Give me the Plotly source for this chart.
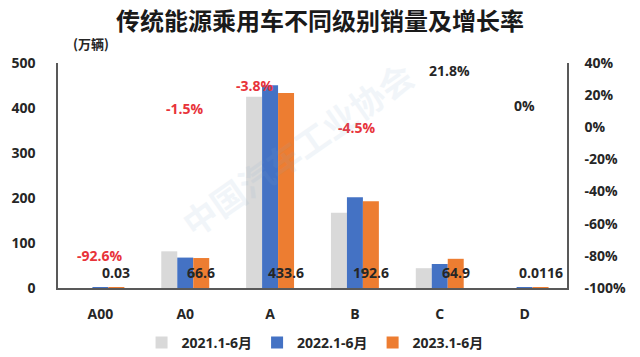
import plotly.graph_objects as go

categories = ["A00", "A0", "A", "B", "C", "D"]
sales_2021 = [None, 81.5, 425.0, 167.0, 44.0, None]
sales_2022 = [0.4, 67.6, 450.7, 201.7, 53.3, 0.0116]
sales_2023 = [0.03, 66.6, 433.6, 192.6, 64.9, 0.0116]
value_labels = ["0.03", "66.6", "433.6", "192.6", "64.9", "0.0116"]
growth = [-92.6, -1.5, -3.8, -4.5, 21.8, 0.0]
growth_labels = ["-92.6%", "-1.5%", "-3.8%", "-4.5%", "21.8%", "0%"]
series_names = ["2021.1-6月", "2022.1-6月", "2023.1-6月"]
left_ticks = [0, 100, 200, 300, 400, 500]
right_ticks = [-100, -80, -60, -40, -20, 0, 20, 40]
right_tick_text = ["-100%", "-80%", "-60%", "-40%", "-20%", "0%", "20%", "40%"]

# style constants
COLORS = ["#D9D9D9", "#4472C4", "#ED7D31"]
GROWTH_SHIFT = [(0, 21), (0, 21), (-15, 48), (2, 7), (10, 22), (0, 22)]
FONT = "Open Sans, Noto Sans CJK SC, sans-serif"
AXIS_COLOR = "#595959"
TEXT_COLOR = "#262626"
L, R, T, B = 58, 73, 63, 69
PW, PH = 640 - L - R, 357 - T - B

fig = go.Figure()
for name, vals, col in zip(series_names, [sales_2021, sales_2022, sales_2023], COLORS):
    fig.add_trace(go.Bar(x=categories, y=vals, name=name, marker_color=col,
                         marker_line_width=0, hoverinfo="skip"))

# invisible carrier trace for the right axis
fig.add_trace(go.Scatter(x=categories, y=growth, yaxis="y2", mode="lines",
                         line=dict(width=0, color="rgba(0,0,0,0)"),
                         showlegend=False, hoverinfo="skip"))

annotations = []
# value labels at the bottom of the 2023 bars
for c, t in zip(categories, value_labels):
    annotations.append(dict(x=c, y=(288 - 272) / PH, xref="x", yref="y domain", text=t,
                            showarrow=False, xshift=16, yanchor="middle",
                            font=dict(family=FONT, size=14, color=TEXT_COLOR, weight="bold")))
# growth labels
for c, g, t, (dx, dy) in zip(categories, growth, growth_labels, GROWTH_SHIFT):
    col = "#E8333A" if g < 0 else TEXT_COLOR
    annotations.append(dict(x=c, y=g, xref="x", yref="y2", text=t, showarrow=False,
                            xshift=dx, yshift=dy, yanchor="middle",
                            font=dict(family=FONT, size=14, color=col, weight="bold")))
# unit label
annotations.append(dict(x=(71 - L) / PW, y=(T + PH - 43) / PH, xref="paper", yref="paper",
                        text="(万辆)", showarrow=False, yanchor="middle",
                        font=dict(family="Noto Sans CJK SC", size=13, color=TEXT_COLOR, weight="bold")))
# faint watermark
annotations.append(dict(x=0.47, y=0.62, xref="paper", yref="paper", text="中国汽车工业协会",
                        showarrow=False, textangle=-35, opacity=0.1,
                        font=dict(family="Noto Sans CJK SC", size=34, color="#7FA7C9", weight="bold")))

tickfont = dict(family=FONT, size=14, color=TEXT_COLOR, weight="bold")
fig.update_layout(
    width=640, height=357,
    margin=dict(l=L, r=R, t=T, b=B, autoexpand=False),
    paper_bgcolor="white", plot_bgcolor="white",
    barmode="group", bargap=0.435, bargroupgap=0,
    title=dict(text="传统能源乘用车不同级别销量及增长率", x=0.5, xanchor="center",
               y=1 - 22 / 357, yanchor="middle",
               font=dict(family="Noto Sans CJK SC", size=24, color="#1a1a1a", weight="bold")),
    font=dict(family=FONT, size=14, color=TEXT_COLOR),
    showlegend=True,
    legend=dict(orientation="h", x=0.505, xanchor="center", y=(288 - 343) / PH, yanchor="middle",
                font=dict(family=FONT, size=14, color=TEXT_COLOR, weight="bold"),
                itemwidth=30, traceorder="normal"),
    xaxis=dict(type="category", showline=True, linecolor=AXIS_COLOR, linewidth=1.5, automargin=False,
               ticks="", showgrid=False, tickfont=tickfont, ticklabelstandoff=12, layer="above traces"),
    yaxis=dict(range=[0, 500], tickvals=left_ticks, showline=True, linecolor=AXIS_COLOR, linewidth=1.5,
               showgrid=False, zeroline=False, ticks="", ticklabelstandoff=18, automargin=False,
               tickfont=tickfont, layer="above traces"),
    yaxis2=dict(range=[-100, 40], tickvals=right_ticks, ticktext=right_tick_text, overlaying="y",
                side="right", anchor="x", showline=True, linecolor=AXIS_COLOR, linewidth=1.5,
                showgrid=False, zeroline=False, ticks="", ticklabelstandoff=13, automargin=False,
                tickfont=tickfont),
    annotations=annotations,
)

fig.write_html("out.html", config={"displayModeBar": False},
               post_script="document.body.style.margin='0';document.body.style.overflow='hidden';")
